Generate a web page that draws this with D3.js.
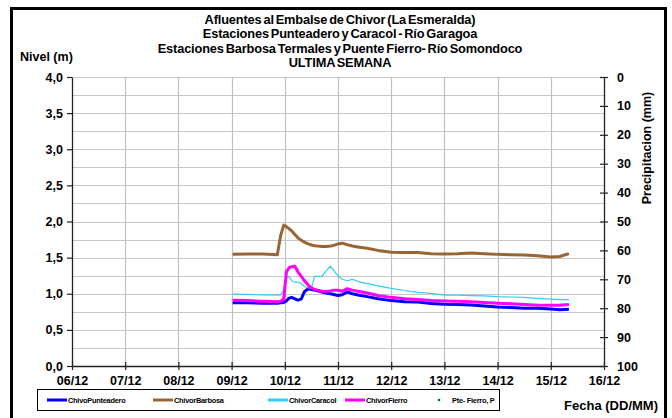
<!DOCTYPE html>
<html>
<head>
<meta charset="utf-8">
<script src="https://cdn.jsdelivr.net/npm/d3@7/dist/d3.min.js"></script>
<style>
  body { margin: 0; background: #fff; }
  svg { display: block; }
  text { font-family: "Liberation Sans", Arial, sans-serif; font-weight: bold; fill: #000; }
</style>
</head>
<body>
<svg id="chart" width="672" height="418"></svg>
<script>
// Time in days counted from 06/12 00:00
const dias = [3.02, 3.30, 3.60, 3.86, 3.92, 3.98, 4.03, 4.08, 4.13, 4.19, 4.25, 4.31, 4.37, 4.44,
  4.50, 4.56, 4.62, 4.70, 4.78, 4.86, 4.92, 5.00, 5.08, 5.17, 5.27, 5.40, 5.55, 5.75, 6.00, 6.25,
  6.50, 6.75, 7.00, 7.25, 7.50, 7.75, 8.00, 8.25, 8.50, 8.75, 9.00, 9.17, 9.34];

// Water level (m) per station
const chivoPunteadero = [0.875, 0.875, 0.87, 0.87, 0.875, 0.88, 0.90, 0.94, 0.95, 0.93, 0.91, 0.93, 1.03, 1.07,
  1.06, 1.05, 1.04, 1.025, 1.01, 1.00, 0.99, 0.975, 0.985, 1.025, 1.00, 0.98, 0.96, 0.93, 0.905, 0.89,
  0.885, 0.865, 0.855, 0.85, 0.845, 0.83, 0.815, 0.81, 0.80, 0.80, 0.79, 0.78, 0.785];
const chivorBarbosa = [1.545, 1.55, 1.55, 1.54, 1.80, 1.95, 1.93, 1.90, 1.87, 1.82, 1.77, 1.74, 1.715, 1.69,
  1.675, 1.665, 1.66, 1.655, 1.655, 1.66, 1.67, 1.69, 1.70, 1.68, 1.66, 1.645, 1.63, 1.60, 1.575, 1.57,
  1.57, 1.555, 1.55, 1.555, 1.565, 1.555, 1.545, 1.54, 1.535, 1.525, 1.51, 1.515, 1.555];
const chivorCaracol = [0.995, 0.99, 0.985, 0.98, 0.985, 1.05, 1.22, 1.24, 1.18, 1.16, 1.16, 1.14, 1.10, 1.08,
  1.075, 1.24, 1.24, 1.24, 1.32, 1.38, 1.32, 1.25, 1.20, 1.18, 1.20, 1.165, 1.14, 1.11, 1.075, 1.045,
  1.02, 1.005, 0.98, 0.98, 0.975, 0.97, 0.96, 0.955, 0.95, 0.935, 0.925, 0.92, 0.92];
const chivorFierro = [0.91, 0.905, 0.895, 0.89, 0.895, 0.93, 1.30, 1.36, 1.375, 1.38, 1.30, 1.24, 1.18, 1.12,
  1.08, 1.06, 1.05, 1.035, 1.03, 1.04, 1.05, 1.05, 1.035, 1.07, 1.05, 1.03, 1.01, 0.975, 0.95, 0.93,
  0.92, 0.905, 0.90, 0.895, 0.89, 0.88, 0.87, 0.86, 0.85, 0.84, 0.84, 0.84, 0.85];
// Precipitation at Pte. Fierro (mm) – no records this week
const pteFierroP = [];

const diaLabels = ["06/12", "07/12", "08/12", "09/12", "10/12", "11/12", "12/12", "13/12", "14/12", "15/12", "16/12"];
const nivelTicks = [0, 0.5, 1, 1.5, 2, 2.5, 3, 3.5, 4];
const nivelGrid = d3.range(0.25, 4.01, 0.25);
const precipTicks = [0, 10, 20, 30, 40, 50, 60, 70, 80, 90, 100];

const titleLines = [
  "Afluentes al Embalse de Chivor (La Esmeralda)",
  "Estaciones Punteadero y Caracol - Río Garagoa",
  "Estaciones Barbosa Termales y Puente Fierro- Río Somondoco",
  "ULTIMA SEMANA"
];

const series = [
  { name: "ChivoPunteadero", values: chivoPunteadero, color: "#0000ff", width: 3 },
  { name: "ChivorBarbosa", values: chivorBarbosa, color: "#996633", width: 3 },
  { name: "ChivorCaracol", values: chivorCaracol, color: "#33ccff", width: 1.2 },
  { name: "ChivorFierro", values: chivorFierro, color: "#ff00ff", width: 3 }
];

const svg = d3.select("#chart");
const plotL = 72, plotR = 604, plotT = 77, plotB = 366;

const x = d3.scaleLinear().domain([0, 10]).range([plotL, plotR]);
const y = d3.scaleLinear().domain([0, 4]).range([plotB, plotT]);
const yP = d3.scaleLinear().domain([0, 100]).range([plotT, plotB]);

// outer frame
svg.append("rect")
  .attr("x", 11.5).attr("y", 8.5).attr("width", 654).attr("height", 420)
  .attr("fill", "none").attr("stroke", "#000").attr("stroke-width", 3);

// gridlines
const grid = svg.append("g");
grid.selectAll("line.h").data(nivelGrid).join("line")
  .attr("x1", plotL).attr("x2", plotR)
  .attr("y1", d => Math.round(y(d)) + 0.5).attr("y2", d => Math.round(y(d)) + 0.5)
  .attr("stroke", "#c8c8c8").attr("stroke-width", 1.2);
grid.selectAll("line.v").data(d3.range(1, 10)).join("line")
  .attr("x1", d => Math.round(x(d)) + 0.5).attr("x2", d => Math.round(x(d)) + 0.5)
  .attr("y1", plotT).attr("y2", plotB)
  .attr("stroke", "#c0c0c0").attr("stroke-width", 1.2);

// level series
const line = d3.line().x((d, i) => x(dias[i])).y(d => y(d));
svg.append("g").selectAll("path").data(series).join("path")
  .attr("d", s => line(s.values))
  .attr("fill", "none")
  .attr("stroke", s => s.color)
  .attr("stroke-width", s => s.width)
  .attr("stroke-linejoin", "round");

// precipitation points
svg.append("g").selectAll("circle").data(pteFierroP).join("circle")
  .attr("cx", d => x(d.t)).attr("cy", d => yP(d.p)).attr("r", 1.5).attr("fill", "#008000");

// axes
const fmtNivel = d => d3.format(".1f")(d).replace(".", ",");
const axisColor = "#222";

const gl = svg.append("g").attr("transform", `translate(${plotL},0)`)
  .call(d3.axisLeft(y).tickValues(nivelTicks).tickFormat(fmtNivel).tickSize(5).tickSizeOuter(0).tickPadding(4));
const gr = svg.append("g").attr("transform", `translate(${plotR},0)`)
  .call(d3.axisRight(yP).tickValues(precipTicks).tickSize(4).tickSizeOuter(0).tickPadding(9));
gr.selectAll(".tick line").attr("x1", -4);
const gb = svg.append("g").attr("transform", `translate(0,${plotB})`)
  .call(d3.axisBottom(x).tickValues(d3.range(0, 11)).tickFormat(i => diaLabels[i]).tickSize(4).tickSizeOuter(0).tickPadding(6));
gb.selectAll(".tick line").attr("y1", -4);

[gl, gr, gb].forEach(g => {
  g.select(".domain").attr("stroke", axisColor).attr("stroke-width", 1.3);
  g.selectAll(".tick line").attr("stroke", axisColor).attr("stroke-width", 1.2);
  g.selectAll(".tick text").attr("font-size", 12.5).attr("font-family", "Liberation Sans, Arial, sans-serif")
    .attr("font-weight", "bold").attr("fill", "#000");
});

// titles
svg.append("g").selectAll("text").data(titleLines).join("text")
  .attr("x", 340).attr("y", (d, i) => 24 + i * 14.3)
  .attr("text-anchor", "middle").attr("font-size", 12.8)
  .attr("letter-spacing", -0.15).attr("word-spacing", -1.5)
  .text(d => d);

svg.append("text").attr("x", 20).attr("y", 61).attr("font-size", 12.5).text("Nivel (m)");
svg.append("text").attr("transform", "translate(651,148) rotate(-90)")
  .attr("text-anchor", "middle").attr("font-size", 12.5).text("Precipitacion (mm)");
svg.append("text").attr("x", 658).attr("y", 410).attr("text-anchor", "end")
  .attr("font-size", 13).text("Fecha (DD/MM)");

// legend
const legend = svg.append("g");
legend.append("rect").attr("x", 37.5).attr("y", 389.5).attr("width", 462).attr("height", 21)
  .attr("fill", "#fff").attr("stroke", "#000").attr("stroke-width", 1);
const legendItems = series.map(s => ({ name: s.name, color: s.color, kind: "line" }))
  .concat([{ name: "Pte- Fierro, P", color: "#008000", kind: "dot" }]);
const legendX = [47, 153, 268, 345, 430];
const items = legend.selectAll("g.item").data(legendItems).join("g")
  .attr("transform", (d, i) => `translate(${legendX[i]},400)`);
items.filter(d => d.kind === "line").append("line")
  .attr("x1", 0).attr("x2", 20).attr("stroke", d => d.color).attr("stroke-width", 3);
items.filter(d => d.kind === "dot").append("circle")
  .attr("cx", 9).attr("cy", 0).attr("r", 1.3).attr("fill", d => d.color);
items.append("text").attr("x", d => d.kind === "dot" ? 22 : 21).attr("y", 2.7)
  .attr("font-size", 7.4).attr("letter-spacing", -0.25).text(d => d.name);
</script>
</body>
</html>
